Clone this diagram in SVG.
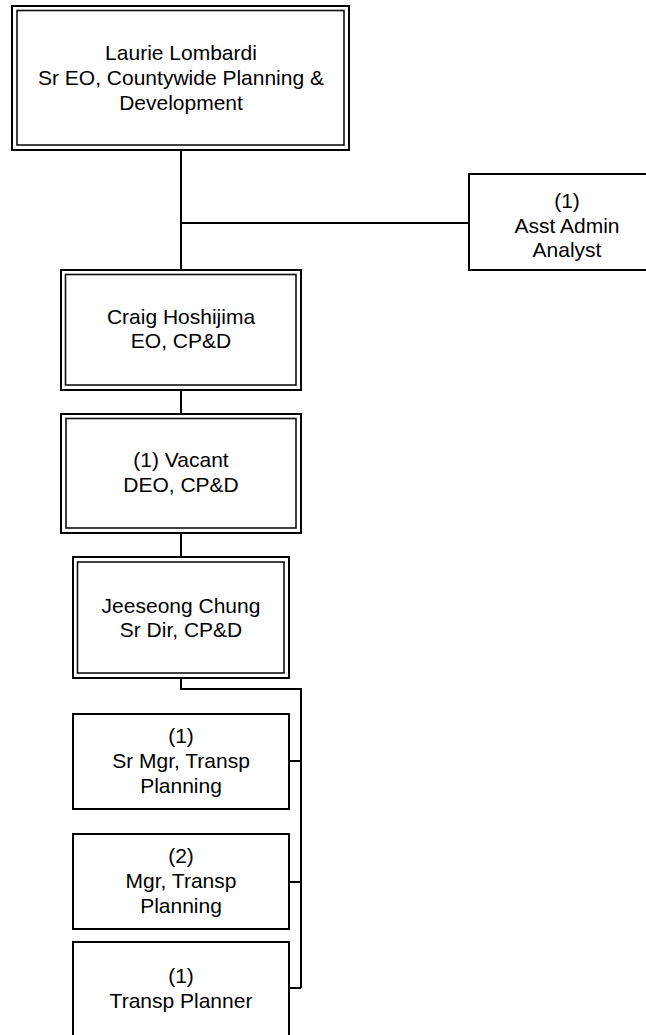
<svg xmlns="http://www.w3.org/2000/svg" width="646" height="1035" viewBox="0 0 646 1035">
<style>
.bg{fill:#fff}
.box{fill:#fff;stroke:#000;stroke-width:2}
.inner{fill:none;stroke:#111;stroke-width:1.6}
.conn{fill:none;stroke:#000;stroke-width:2}
text{font-family:"Liberation Sans",Arial,sans-serif;font-size:21px;fill:#000;text-anchor:middle}
</style>
<rect class="bg" x="0" y="0" width="646" height="1035"/>
<g id="connectors">
<path class="conn" d="M181,150 V270 M181,223 H469 M181,390 V414 M181,533 V557 M181,678 V689 H301 V988 M289,761 H301 M289,882 H301 M289,988 H301"/>
</g>
<g id="node-lombardi">
<rect class="box" x="12" y="6" width="337" height="144"/>
<rect class="inner" x="17" y="10.5" width="327" height="134.5"/>
<text x="181" y="60">Laurie Lombardi</text>
<text x="181" y="85">Sr EO, Countywide Planning &amp;</text>
<text x="181" y="110">Development</text>
</g>
<g id="node-asst-admin">
<rect class="box" x="469" y="174" width="196" height="96"/>
<text x="567" y="208">(1)</text>
<text x="567" y="233">Asst Admin</text>
<text x="567" y="257">Analyst</text>
</g>
<g id="node-hoshijima">
<rect class="box" x="61" y="270" width="240" height="120"/>
<rect class="inner" x="65.5" y="274.5" width="230.5" height="110.5"/>
<text x="181" y="324">Craig Hoshijima</text>
<text x="181" y="348">EO, CP&amp;D</text>
</g>
<g id="node-vacant-deo">
<rect class="box" x="61" y="414" width="240" height="119"/>
<rect class="inner" x="66" y="418.5" width="230" height="109.5"/>
<text x="181" y="467">(1) Vacant</text>
<text x="181" y="492">DEO, CP&amp;D</text>
</g>
<g id="node-chung">
<rect class="box" x="73" y="557" width="216" height="121"/>
<rect class="inner" x="77.5" y="562" width="206.5" height="111"/>
<text x="181" y="613">Jeeseong Chung</text>
<text x="181" y="637">Sr Dir, CP&amp;D</text>
</g>
<g id="node-sr-mgr">
<rect class="box" x="73" y="714" width="216" height="95"/>
<text x="181" y="743">(1)</text>
<text x="181" y="768">Sr Mgr, Transp</text>
<text x="181" y="793">Planning</text>
</g>
<g id="node-mgr">
<rect class="box" x="73" y="834" width="216" height="95"/>
<text x="181" y="863">(2)</text>
<text x="181" y="888">Mgr, Transp</text>
<text x="181" y="913">Planning</text>
</g>
<g id="node-planner">
<rect class="box" x="73" y="942" width="216" height="100"/>
<text x="181" y="983">(1)</text>
<text x="181" y="1008">Transp Planner</text>
</g>
</svg>
